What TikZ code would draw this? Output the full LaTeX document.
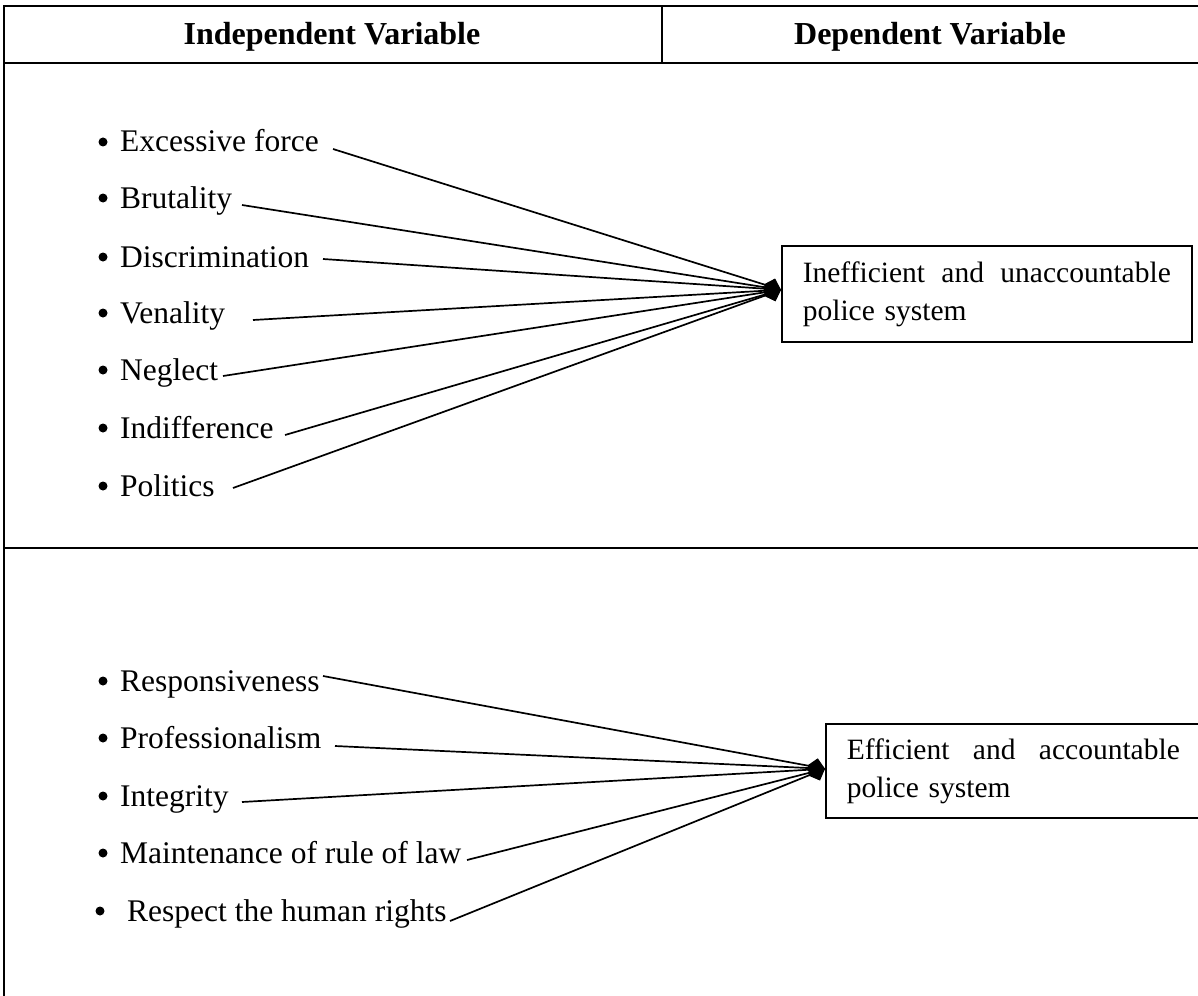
\documentclass[tikz,border=0pt]{standalone}
\usepackage{fontspec}
\setmainfont{Liberation Serif}
\usetikzlibrary{arrows.meta}
\begin{document}
\begin{tikzpicture}[x=1pt,y=-1pt,
  tbl/.style={line width=1.6pt},
  item/.style={anchor=base west, inner sep=0pt, font=\fontsize{31.5}{38}\selectfont},
  head/.style={anchor=base, inner sep=0pt, font=\fontsize{32}{38}\selectfont\bfseries},
  outbox/.style={draw, line width=1.6pt, anchor=north west, align=left, inner xsep=21pt, inner ysep=0pt, font=\fontsize{29.5}{38}\selectfont},
  link/.style={line width=1.7pt, -{Diamond[length=18pt,width=18pt]}},
  bul/.style={circle, fill, inner sep=0pt, minimum size=9pt}
]
\useasboundingbox (0,0) rectangle (1198,995);
\begin{scope}
\clip (0,0) rectangle (1198,995);
% table
\draw[tbl] (1210,6) -- (4,6) -- (4,1000);
\draw[tbl] (662,6) -- (662,63);
\draw[tbl] (4,63) -- (1210,63);
\draw[tbl] (4,548) -- (1210,548);
% headers
\node[head] (hIV) at (332,45) {Independent Variable};
\node[head] (hDV) at (930,45) {Dependent Variable};
% upper items
\node[bul] (b1) at (103,142) {};
\node[bul] (b2) at (103,198) {};
\node[bul] (b3) at (103,257) {};
\node[bul] (b4) at (103,313) {};
\node[bul] (b5) at (103,370) {};
\node[bul] (b6) at (103,428) {};
\node[bul] (b7) at (103,486) {};
\node[item] (i1) at (120,152) {Excessive force};
\node[item] (i2) at (120,208) {Brutality};
\node[item] (i3) at (120,267) {Discrimination};
\node[item] (i4) at (120,323) {Venality};
\node[item] (i5) at (120,380) {Neglect};
\node[item] (i6) at (120,438) {Indifference};
\node[item] (i7) at (120,496) {Politics};
% upper box
\node[outbox, text width=368pt, minimum height=96pt] (box1) at (781,245)
  {\makebox[368pt][s]{Inefficient\hfill and\hfill unaccountable}\\police system};
\coordinate (tip1) at ([yshift=4pt]box1.west);
\coordinate (s1) at (333,149);
\coordinate (s2) at (242,205);
\coordinate (s3) at (323,259);
\coordinate (s4) at (253,320);
\coordinate (s5) at (223,376);
\coordinate (s6) at (285,435);
\coordinate (s7) at (233,488);
\foreach \s in {s1,s2,s3,s4,s5,s6,s7} \draw[link] (\s) -- (tip1);
% lower items
\node[bul] (c1) at (103,681) {};
\node[bul] (c2) at (103,738) {};
\node[bul] (c3) at (103,796) {};
\node[bul] (c4) at (103,853) {};
\node[bul] (c5) at (100,911) {};
\node[item] (j1) at (120,691) {Responsiveness};
\node[item] (j2) at (120,748) {Professionalism};
\node[item] (j3) at (120,806) {Integrity};
\node[item] (j4) at (120,863) {Maintenance of rule of law};
\node[item] (j5) at (127,921) {Respect the human rights};
% lower box
\node[outbox, text width=333pt, minimum height=94pt] (box2) at (825,723)
  {\makebox[333pt][s]{Efficient\hfill and\hfill accountable}\\police system};
\coordinate (tip2) at ([yshift=2pt]box2.west);
\coordinate (t1) at (323,676);
\coordinate (t2) at (335,746);
\coordinate (t3) at (242,802);
\coordinate (t4) at (467,860);
\coordinate (t5) at (450,921);
\foreach \s in {t1,t2,t3,t4,t5} \draw[link] (\s) -- (tip2);
\end{scope}
\end{tikzpicture}
\end{document}
